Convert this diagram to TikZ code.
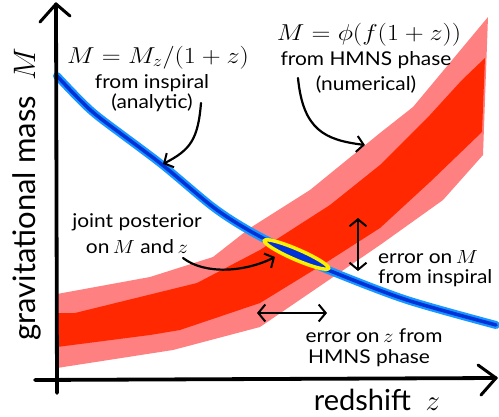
\RequirePackage{fix-cm}
\documentclass[tikz,border=0pt]{standalone}
\usepackage{fontspec}
\setmainfont{Lato}
\usetikzlibrary{arrows.meta,shapes.geometric}
\definecolor{pinkb}{RGB}{255,128,128}
\definecolor{redb}{RGB}{255,40,0}
\definecolor{lblue}{RGB}{25,150,255}
\definecolor{dblue}{RGB}{0,50,215}
\definecolor{yel}{RGB}{255,240,0}
\newcommand{\wx}[1]{\scalebox{1.1}[1]{#1}}
\newcommand{\wm}[1]{\scalebox{1.14}[1]{#1}}
\tikzset{
  lab/.style={font=\fontsize{19}{21}\selectfont, inner sep=0pt, anchor=base},
  mth/.style={font=\fontsize{23}{25}\selectfont, inner sep=0pt, anchor=base},
  axl/.style={font=\fontsize{31}{33}\selectfont, inner sep=0pt, anchor=base},
  xal/.style={font=\fontsize{29}{31}\selectfont, inner sep=0pt, anchor=base},
  axisline/.style={line width=3.8pt, black, line cap=round},
  axishead/.style={line width=3pt, black, line cap=round, line join=round},
  sketch/.style={line width=2.2pt, black, line cap=round,
    -{Straight Barb[length=7pt,width=16pt,line width=2pt]}},
  dsketch/.style={line width=2.2pt, black, line cap=round,
    {Straight Barb[length=7pt,width=17pt,line width=2pt]}-{Straight Barb[length=7pt,width=17pt,line width=2pt]}},
}
\begin{document}
\begin{tikzpicture}[x=1pt,y=-1pt]
\useasboundingbox (0,0) rectangle (499,416);
% error band
\fill[pinkb] (57,294) -- (150,277) -- (213,257) -- (250,228) -- (310,190) -- (380,133) -- (413,107) -- (488,17)
  -- (483,155) -- (443,200) -- (380,245) -- (260,327) -- (173,350) -- (57,368) -- cycle;
\fill[redb] (57,313) -- (75,313) -- (197,283) -- (260,250) -- (330,205) -- (380,165) -- (430,115) -- (462,80) -- (485,58)
  -- (482,132) -- (430,182) -- (380,228) -- (330,260) -- (260,303) -- (180,330) -- (150,335) -- (57,347) -- cycle;
% inspiral curve
\draw[lblue, line width=8pt, line cap=round] plot[smooth, tension=0.5] coordinates {(57,76) (80,100) (100,118) (160,163) (213,207) (250,231) (300,257) (333,272) (407,300) (496,325)};
\draw[dblue, line width=3.5pt, line cap=round] plot[smooth, tension=0.5] coordinates {(57,76) (80,100) (100,118) (160,163) (213,207) (250,231) (300,257) (333,272) (407,300) (496,325)};
% joint posterior
\node[ellipse, draw=yel, line width=3.5pt, fill=dblue, rotate=-23.4, minimum width=70pt, minimum height=10.5pt, inner sep=0pt] (post) at (296.5,254.5) {};
% axes
\coordinate (yb) at (57,393);
\coordinate (yt) at (56,4);
\coordinate (xl) at (35,380);
\coordinate (xr) at (496,378);
\draw[axisline] (yb) -- (yt);
\draw[axisline] (xl) -- (xr);
\draw[axishead] (40,22) -- (yt) -- (70,16);
\draw[axishead] (478,365) -- (xr) -- (481,395);
% labels
\node[axl, rotate=90] (ylab) at (35,194) {gravitational mass\ \ $M$};
\node[xal] (xlab) at (377,410) {redshift\ \ $z$};
\node[mth] (m1) at (158,63) {\wm{$M = M_z/(1+z)$}};
\node[lab] (i1) at (152,88) {\wx{from inspiral}};
\node[lab] (i2) at (152,108) {\wx{(analytic)}};
\node[mth] (m2) at (369,40) {\wm{$M = \phi(f(1+z))$}};
\node[lab] (h1) at (366,65) {\wx{from HMNS phase}};
\node[lab] (h2) at (366,90) {\wx{(numerical)}};
\node[lab] (j1) at (137,227) {\wx{joint posterior}};
\node[lab] (j2) at (137,253) {\wx{on\,$M$ and\,$z$}};
\node[lab, anchor=base west] (e1) at (378,263) {\wx{error on\,$M$}};
\node[lab, anchor=base west] (e2) at (378,283) {\wx{from inspiral}};
\node[lab] (z1) at (374,342) {\wx{error on\,$z$ from}};
\node[lab] (z2) at (369,363) {\wx{HMNS phase}};
% arrows
\coordinate (a1s) at (201,103);
\coordinate (a1t) at (163,164);
\draw[sketch] (a1s) .. controls (198,140) and (190,150) .. (a1t);
\coordinate (a2s) at (298,78);
\coordinate (a2t) at (365,145);
\draw[sketch] (a2s) .. controls (303,130) and (325,140) .. (a2t);
\coordinate (a3s) at (183,258);
\coordinate (a3t) at (275,257);
\draw[sketch] (a3s) .. controls (205,275) and (245,272) .. (a3t);
\coordinate (d1t) at (358,218);
\coordinate (d1b) at (358,271);
\draw[dsketch] (d1t) -- (d1b);
\coordinate (d2l) at (257,313);
\coordinate (d2r) at (327,313);
\draw[dsketch] (d2l) -- (d2r);
\end{tikzpicture}
\end{document}
